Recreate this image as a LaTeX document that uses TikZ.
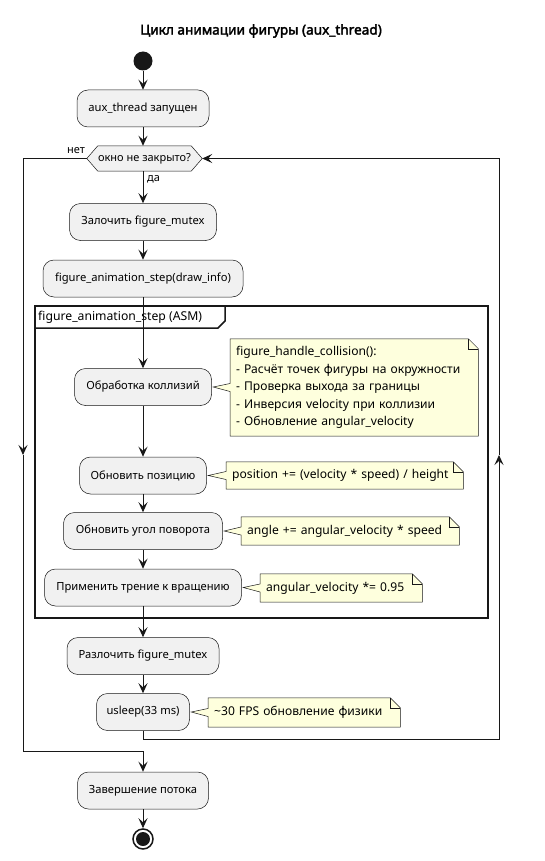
\documentclass[tikz,border=0pt]{standalone}
\usepackage{fontspec}
\setmainfont{Noto Sans}
\newfontfamily\titlefont{Noto Sans}[FakeBold=2.5]
\usetikzlibrary{arrows.meta,calc,backgrounds}
\definecolor{ink}{HTML}{181818}
\definecolor{boxfill}{HTML}{F1F1F1}
\definecolor{notefill}{HTML}{FEFFDD}
\newcommand{\notepoly}[2]{%
  \begin{scope}[on background layer]
  \draw[notedraw] (#1.north west) -- ($(#1.north east)+(-10,0)$) -- ($(#1.north east)+(0,10)$) -- (#1.south east) -- (#1.south west) -- ($(#1.west)+(0,4)$) -- ($(#2.east)+(1.5,0)$) -- ($(#1.west)+(0,-4)$) -- cycle;
  \draw[notedraw,fill=none] ($(#1.north east)+(-10,0)$) -- ($(#1.north east)+(-10,10)$) -- ($(#1.north east)+(0,10)$);
  \end{scope}}
\begin{document}
\begin{tikzpicture}[x=1pt,y=-1pt,
  act/.style={draw=ink, line width=0.5pt, fill=boxfill, rounded corners=11pt, minimum height=37pt, inner xsep=8pt, inner ysep=0pt, font=\fontsize{11.2}{14}\selectfont},
  flow/.style={draw=ink, line width=1pt, -{Stealth[length=10pt,width=9pt,inset=4pt]}},
  notebox/.style={inner xsep=6pt, inner ysep=0pt, align=left, anchor=west, font=\fontsize{12.1}{17.5}\selectfont},
  notedraw/.style={draw=ink, line width=0.5pt, fill=notefill},
  lbl/.style={font=\fontsize{11}{13}\selectfont, inner sep=0pt},
  framestyle/.style={draw=ink, line width=1.5pt}]
\begin{scope}[on background layer]
\fill[white] (0,0) rectangle (544,861);
\end{scope}
\path[use as bounding box] (0,0) rectangle (544,861);

\node[font=\titlefont\fontsize{13.6}{16}\selectfont] (title) at (261,31) {Цикл анимации фигуры (aux\_thread)};

\node[circle, fill=ink, minimum size=19pt, inner sep=0pt] (start) at (143,61) {};
\node[act, minimum width=132pt] (aux) at (143,108.5) {aux\_thread запущен};
\node[lbl, minimum width=115pt, minimum height=25pt] (dia) at (144.5,158.5) {окно не закрыто?};
\begin{scope}[on background layer]
\draw[draw=ink, line width=0.5pt, fill=boxfill] (dia.west) -- ($(dia.north west)+(11,0)$) -- ($(dia.north east)+(-11,0)$) -- (dia.east) -- ($(dia.south east)+(-11,0)$) -- ($(dia.south west)+(11,0)$) -- cycle;
\end{scope}
\node[lbl, anchor=west] (yes) at (147,179) {да};
\node[lbl] (no) at (76,151) {нет};

\node[act, minimum width=147pt] (lock) at (143,222) {Залочить figure\_mutex};
\node[act, minimum width=200pt] (fas) at (143,278.5) {figure\_animation\_step(draw\_info)};

\draw[framestyle] (35,306) rectangle (488,618);
\draw[framestyle] (35,328) -- (218,328) -- (225,321) -- (225,306);
\node[font=\fontsize{12.2}{15}\selectfont, anchor=west, inner sep=0pt] (frt) at (38,317) {figure\_animation\_step (ASM)};

\node[act, minimum width=137pt] (coll) at (143,387) {Обработка коллизий};
\node[notebox, text width=236pt, minimum height=97pt] (n1) at (230,387.5) {figure\_handle\_collision():\\- Расчёт точек фигуры на окружности\\- Проверка выхода за границы\\- Инверсия velocity при коллизии\\- Обновление angular\_velocity};
\notepoly{n1}{coll}

\node[act, minimum width=127pt] (pos) at (143,475.5) {Обновить позицию};
\node[notebox, text width=225pt, minimum height=27pt] (n2) at (226,475.5) {position += (velocity * speed) / height};
\notepoly{n2}{pos}

\node[act, minimum width=159pt] (ang) at (143,531) {Обновить угол поворота};
\node[notebox, text width=206pt, minimum height=28pt] (n3) at (241,531) {angle += angular\_velocity * speed};
\notepoly{n3}{ang}

\node[act, minimum width=197pt] (fric) at (143,587.5) {Применить трение к вращению};
\node[notebox, text width=150pt, minimum height=28pt] (n4) at (260,588) {angular\_velocity *= 0.95};
\notepoly{n4}{fric}

\node[act, minimum width=152pt] (unlock) at (143,656) {Разлочить figure\_mutex};
\node[act, minimum width=93pt] (sleep) at (143,712) {usleep(33 ms)};
\node[notebox, text width=180pt, minimum height=29pt] (n5) at (208,712.5) {\textasciitilde30 FPS обновление физики};
\notepoly{n5}{sleep}

\node[act, minimum width=131pt] (fin) at (143,790.5) {Завершение потока};
\node[circle, draw=ink, line width=1.5pt, fill=white, minimum size=20pt, inner sep=0pt] (end) at (143,839) {};
\node[circle, fill=ink, minimum size=14pt, inner sep=0pt] (endin) at (end) {};

\draw[flow] (start) -- (aux);
\draw[flow] (aux) -- (aux.south |- dia.north);
\draw[flow] (lock.north |- dia.south) -- (lock.north);
\draw[flow] (lock) -- (fas);
\draw[flow] (fas) -- (coll);
\draw[flow] (coll) -- (pos);
\draw[flow] (pos) -- (ang);
\draw[flow] (ang) -- (fric);
\draw[flow] (fric) -- (unlock);
\draw[flow] (unlock) -- (sleep);
\draw[flow] (fin) -- (end);

\coordinate (ldown) at (23,455);
\coordinate (lbot) at (143,751.5);
\draw[flow] (dia.west) -| (ldown);
\draw[flow] (ldown) |- (lbot) -- (fin.north);
\coordinate (rbot) at (143,739);
\coordinate (rup) at (499,455);
\draw[flow] (sleep.south) -- (rbot) -| (rup);
\draw[flow] (rup) |- (dia.east);
\end{tikzpicture}
\end{document}
